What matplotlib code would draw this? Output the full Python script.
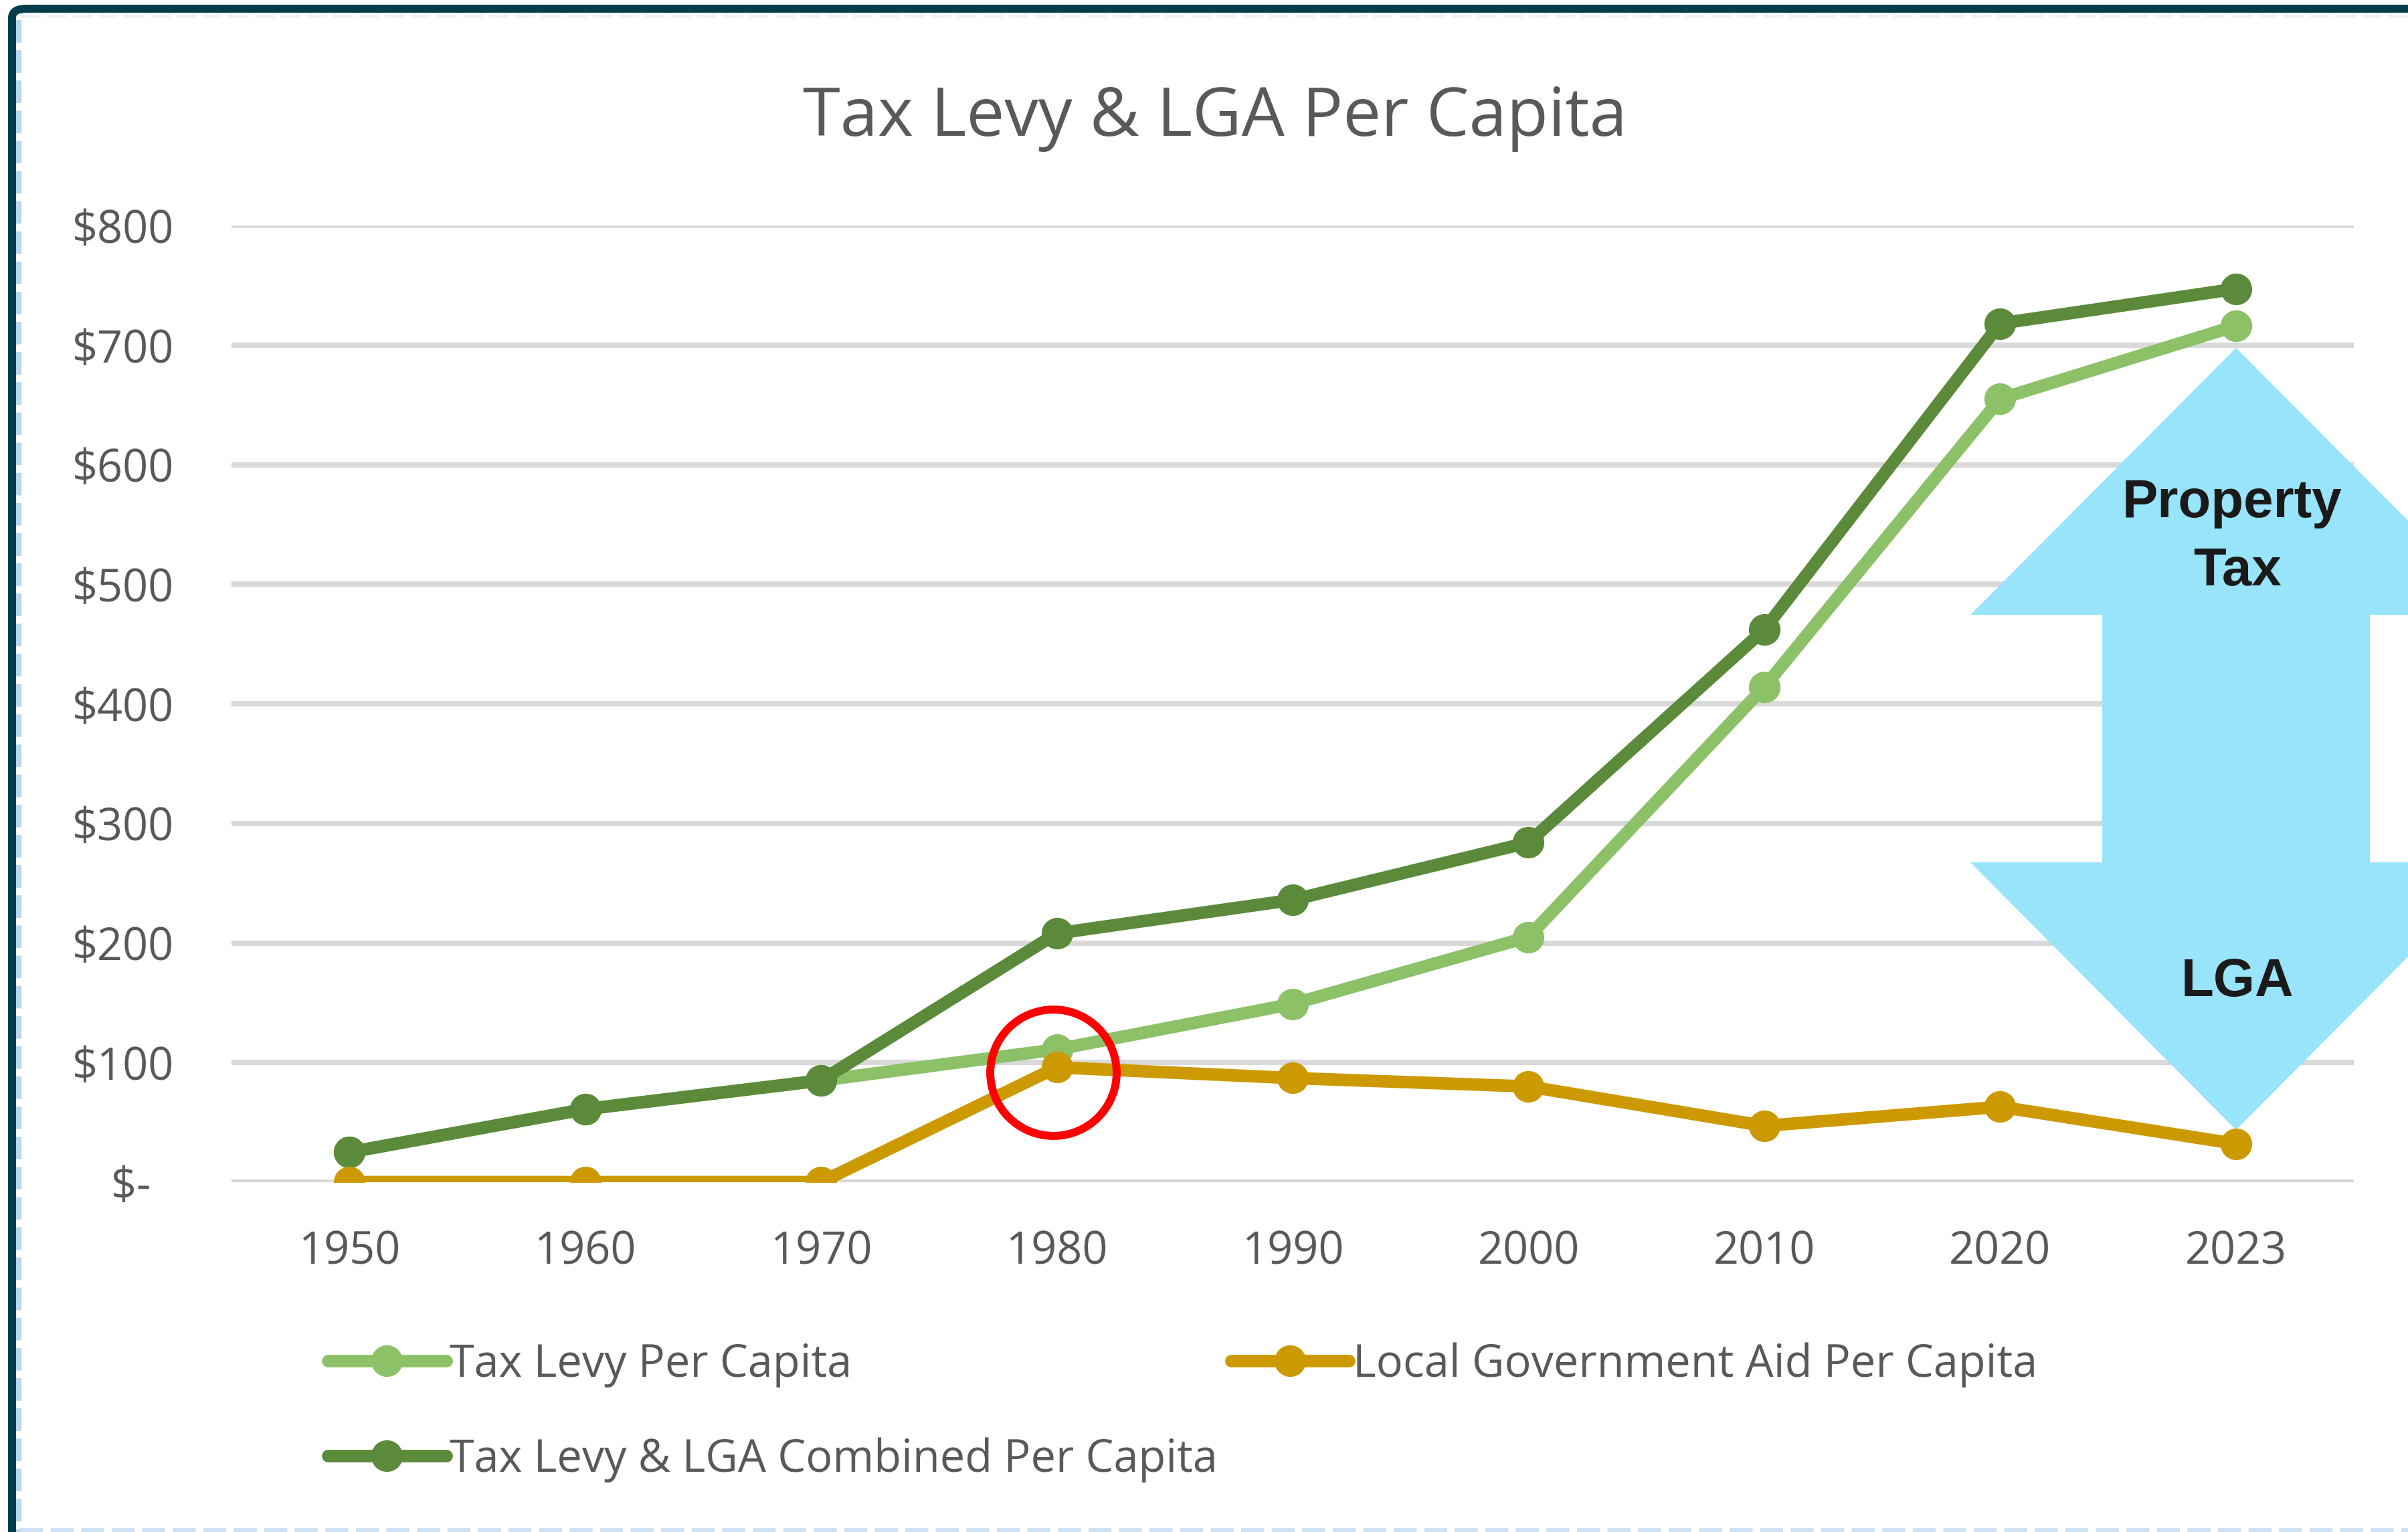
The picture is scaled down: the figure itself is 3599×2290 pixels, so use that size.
import matplotlib.pyplot as plt
import matplotlib.transforms as mtransforms
from matplotlib.patches import Polygon, FancyBboxPatch
from matplotlib.lines import Line2D

# per-capita dollars by census year
years = ['1950', '1960', '1970', '1980', '1990', '2000', '2010', '2020', '2023']
tax_levy = [25, 61, 85, 111, 149, 205, 414, 655, 716]
lga = [0, 0, 0, 96, 87, 80, 47, 63, 32]
combined = [25, 61, 85, 208, 236, 284, 462, 718, 747]
y_ticks = [0, 100, 200, 300, 400, 500, 600, 700, 800]

W, H = 3599, 2290
FONT = 'Open Sans'
GREY = '#595959'
LIGHT_GREEN = '#8CC168'
DARK_GREEN = '#5A8A3A'
GOLD = '#CC9A00'
ARROW_BLUE = '#98E4FA'


def fx(x):
    return x / W


def fy(y):
    return 1 - y / H


fig = plt.figure(figsize=(W / 100, H / 100), dpi=100)
fig.patch.set_facecolor('white')

# outer frame: dark rounded border on top/left, light dashed rules inside
frame = FancyBboxPatch((fx(18), fy(3000)), 2.0, fy(13) - fy(3000),
                       boxstyle='round,pad=0,rounding_size=0.006',
                       transform=fig.transFigure, facecolor='none',
                       edgecolor='#033C4A', linewidth=8.6, zorder=10)
fig.add_artist(frame)
fig.add_artist(Line2D([fx(28), fx(28)], [fy(30), fy(2290)], transform=fig.transFigure,
                      color='#B8D6EE', lw=5.8, linestyle=(0, (4.2, 1.4)), zorder=9))
fig.add_artist(Line2D([fx(30), fx(3599)], [fy(23), fy(23)], transform=fig.transFigure,
                      color='#EEF5FB', lw=5.0, linestyle=(0, (4.2, 1.4)), zorder=9))
fig.add_artist(Line2D([fx(30), fx(3599)], [fy(2287), fy(2287)], transform=fig.transFigure,
                      color='#CFE2F3', lw=4.5, linestyle=(0, (5.5, 1.8)), zorder=9))

ax = fig.add_axes([fx(346), fy(1767), fx(3518) - fx(346), fy(337) - fy(1767)])
x = list(range(len(years)))
ax.set_xlim(-0.5, len(years) - 0.5)
ax.set_ylim(0, 800)

ax.set_yticks(y_ticks)
ax.set_yticklabels(['$-  ' if v == 0 else f'${v}' for v in y_ticks])
ax.set_xticks(x)
ax.set_xticklabels(years)
ax.tick_params(axis='both', length=0, labelsize=48, labelcolor=GREY)
ax.tick_params(axis='y', pad=62)
ax.tick_params(axis='x', pad=51)
for lbl in ax.get_xticklabels() + ax.get_yticklabels():
    lbl.set_fontfamily(FONT)
for s in ax.spines.values():
    s.set_visible(False)
ax.yaxis.grid(True, color='#D9D9D9', lw=5.8)
ax.set_axisbelow(True)

# double-headed arrow: property tax above, LGA below (over the grid, under the lines)
cx = 3342
arrow_px = [(cx, 520), (cx + 397, 919), (cx + 200, 919), (cx + 200, 1289),
            (cx + 397, 1289), (cx, 1689), (cx - 397, 1289), (cx - 200, 1289),
            (cx - 200, 919), (cx - 397, 919)]
arrow = Polygon([(fx(px), fy(py)) for px, py in arrow_px], closed=True,
                transform=fig.transFigure, facecolor=ARROW_BLUE, edgecolor='none',
                zorder=2, clip_on=False)
ax.add_patch(arrow)

line_kw = dict(lw=13.5, marker='o', markersize=33, solid_capstyle='round')
l1, = ax.plot(x, tax_levy, color=LIGHT_GREEN, label='Tax Levy Per Capita', zorder=3, **line_kw)
l3, = ax.plot(x, combined, color=DARK_GREEN, label='Tax Levy & LGA Combined Per Capita',
              zorder=4, **line_kw)
l2, = ax.plot(x, lga, color=GOLD, label='Local Government Aid Per Capita', zorder=5, **line_kw)

# red ring highlighting the first year of aid, nudged a little left and down
ring_shift = mtransforms.ScaledTranslation(-4.3 / 72, -5.8 / 72, fig.dpi_scale_trans)
ax.plot(x[3], lga[3], marker='o', markersize=136, markerfacecolor='none',
        markeredgecolor='#FF0000', markeredgewidth=8.6, zorder=6, clip_on=False,
        transform=ax.transData + ring_shift)

bold_kw = dict(fontsize=57.5, fontweight='bold', color='#1A1A1A',
               family='Liberation Sans', ha='center', va='center', zorder=12)
fig.text(fx(3336), fy(752), 'Property', **bold_kw)
fig.text(fx(3344), fy(855), 'Tax', **bold_kw)
fig.text(fx(3344), fy(1468), 'LGA', **bold_kw)

fig.text(fx(1816), fy(203), 'Tax Levy & LGA Per Capita', fontsize=73, color=GREY,
         family=FONT, ha='center', va='baseline')

leg = fig.legend(handles=[l1, l3, l2], ncol=2, loc='upper left',
                 bbox_to_anchor=(fx(490), fy(2006)), frameon=False,
                 prop={'family': FONT, 'size': 48}, labelcolor=GREY,
                 handlelength=2.65, handletextpad=0.08, columnspacing=0.3,
                 labelspacing=1.12, borderpad=0, borderaxespad=0)

fig.savefig('out.png', dpi=100, facecolor='white')
